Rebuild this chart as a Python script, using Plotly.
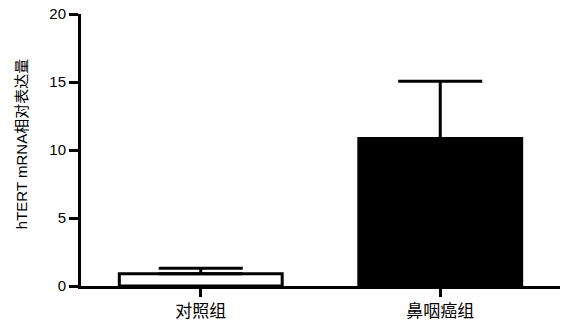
import plotly.graph_objects as go

categories = ["对照组", "鼻咽癌组"]
values = [0.9, 10.85]
err_plus = [0.4, 4.2]
err_minus = [0, 0]
fill_colors = ["white", "black"]
y_ticks = [0, 5, 10, 15, 20]

fig = go.Figure()
fig.add_trace(go.Bar(
    x=categories, y=values, width=0.68,
    marker=dict(color=fill_colors, line=dict(color="black", width=3)),
    error_y=dict(type="data", array=err_plus, arrayminus=err_minus, symmetric=False,
                 color="black", thickness=3, width=42),
))

fig.update_layout(
    width=569, height=322,
    margin=dict(l=81, r=9, t=14, b=36, autoexpand=False),
    plot_bgcolor="white", paper_bgcolor="white",
    showlegend=False,
    font=dict(family="Liberation Sans, Arial, Noto Sans CJK SC", color="black", size=15),
    annotations=[dict(
        text="hTERT mRNA相对表达量", xref="paper", yref="paper",
        x=-0.125, y=0.522, textangle=-90, showarrow=False,
        font=dict(family="Liberation Sans, Noto Sans CJK SC", size=15, color="black"),
        xanchor="center", yanchor="middle")],
)
fig.update_xaxes(
    range=[-0.5, 1.5], showline=True, linecolor="black", linewidth=3,
    ticks="outside", ticklen=8, tickwidth=3, tickcolor="black",
    tickfont=dict(family="Noto Sans CJK SC", size=17, color="black"),
    showgrid=False, zeroline=False, automargin=False,
)
fig.update_yaxes(
    range=[0, 20], tickvals=y_ticks, showline=True, linecolor="black", linewidth=3,
    ticks="outside", ticklen=9, tickwidth=3, tickcolor="black",
    tickfont=dict(family="Liberation Sans, Arial", size=15, color="black"),
    showgrid=False, zeroline=False, automargin=False,
)

fig.write_html("out.html")
